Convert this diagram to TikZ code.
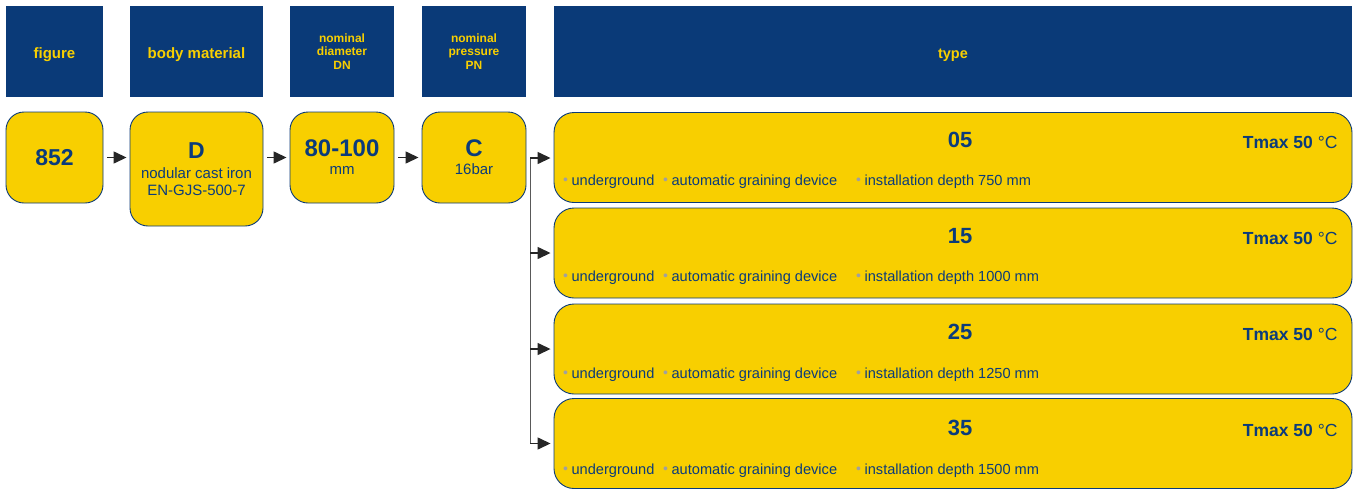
\documentclass[tikz,border=0pt]{standalone}
\usepackage{fontspec}
\setmainfont{Liberation Sans}
\usetikzlibrary{arrows.meta}
\definecolor{hdblue}{HTML}{0A3A78}
\definecolor{boxyellow}{HTML}{F8CF00}
\definecolor{txtblue}{HTML}{0B3B7B}
\definecolor{dotgray}{HTML}{A0A0A0}
\newcommand{\bul}[1]{\textcolor{dotgray}{\fontsize{14}{14}\selectfont\raisebox{1pt}{•}}\hspace{3.5pt}#1}
\begin{document}
\begin{tikzpicture}[x=1pt,y=-1pt,
	head/.style={fill=hdblue, text=boxyellow, inner sep=0pt, align=center, font=\bfseries\fontsize{15}{17}\selectfont},
	headone/.style={head, text height=13pt, text depth=0pt},
	headsmall/.style={head, font=\bfseries\fontsize{12}{13.5}\selectfont},
	pill/.style={fill=boxyellow, draw=hdblue, line width=0.9pt, rounded corners=18pt, text=txtblue, inner sep=0pt, align=center, font=\fontsize{15}{17}\selectfont},
	typebox/.style={pill, minimum width=798pt, minimum height=90pt, rounded corners=20pt},
	num/.style={text=txtblue, font=\bfseries\fontsize{22}{24}\selectfont},
	tmax/.style={text=txtblue, anchor=east, font=\fontsize{17.5}{19}\selectfont},
	item/.style={text=txtblue, anchor=west, inner sep=0pt, font=\fontsize{14.6}{16}\selectfont},
	link/.style={-{Triangle[length=13pt,width=12pt]}, line width=1.4pt, draw=black!85, shorten <=4pt, shorten >=3pt},
	fan/.style={line width=1pt, draw=black!65}]
	\useasboundingbox (0,0) rectangle (1360,488);
	% headers
	\node[headone, minimum width=97pt, minimum height=91pt] (hfig) at (54.5,51.5) {figure};
	\node[headone, minimum width=133pt, minimum height=91pt] (hmat) at (196.5,51.5) {body material};
	\node[headsmall, minimum width=104pt, minimum height=91pt] (hdn) at (342,51.5) {nominal\\diameter\\DN};
	\node[headsmall, minimum width=104pt, minimum height=91pt] (hpn) at (474,51.5) {nominal\\pressure\\PN};
	\node[headone, font=\bfseries\fontsize{14.5}{16}\selectfont, minimum width=798pt, minimum height=91pt] (htype) at (953,51.5) {type};
	% code boxes
	\node[pill, minimum width=97pt, minimum height=91pt] (fig) at (54.5,157.5) {{\fontsize{23}{24}\selectfont\bfseries 852}};
	\node[pill, minimum width=133pt, minimum height=114pt] (mat) at (196.5,169) {{\fontsize{23}{24}\selectfont\bfseries D}\\[3pt]nodular cast iron\\EN-GJS-500-7};
	\node[pill, minimum width=104pt, minimum height=91pt] (dn) at (342,157.5) {{\fontsize{24}{24}\selectfont\bfseries 80-100}\\[1pt]mm};
	\node[pill, minimum width=104pt, minimum height=91pt] (pn) at (474,157.5) {{\fontsize{24}{24}\selectfont\bfseries C}\\[1pt]16bar};
	% type boxes
	\node[typebox] (t05) at (953,157.5) {};
	\node[typebox] (t15) at (953,253) {};
	\node[typebox] (t25) at (953,349) {};
	\node[typebox] (t35) at (953,443.5) {};
	\node[num] (n05) at (960,140) {05};
	\node[num] (n15) at (960,236) {15};
	\node[num] (n25) at (960,332) {25};
	\node[num] (n35) at (960,428) {35};
	\node[tmax] (m05) at (1341,142) {\textbf{Tmax 50} °C};
	\node[tmax] (m15) at (1341,238) {\textbf{Tmax 50} °C};
	\node[tmax] (m25) at (1341,334) {\textbf{Tmax 50} °C};
	\node[tmax] (m35) at (1341,430) {\textbf{Tmax 50} °C};
	\node[item] (a05) at (563,182) {\bul{underground}};
	\node[item] (b05) at (663,182) {\bul{automatic graining device}};
	\node[item] (c05) at (856,182) {\bul{installation depth 750 mm}};
	\node[item] (a15) at (563,278) {\bul{underground}};
	\node[item] (b15) at (663,278) {\bul{automatic graining device}};
	\node[item] (c15) at (856,278) {\bul{installation depth 1000 mm}};
	\node[item] (a25) at (563,375) {\bul{underground}};
	\node[item] (b25) at (663,375) {\bul{automatic graining device}};
	\node[item] (c25) at (856,375) {\bul{installation depth 1250 mm}};
	\node[item] (a35) at (563,471) {\bul{underground}};
	\node[item] (b35) at (663,471) {\bul{automatic graining device}};
	\node[item] (c35) at (856,471) {\bul{installation depth 1500 mm}};
	% arrows
	\draw[link] (fig.east) -- (fig.east -| mat.west);
	\draw[link] (dn.west -| mat.east) -- (dn.west);
	\draw[link] (dn.east) -- (pn.west);
	\coordinate (fork) at (530,158);
	\draw[fan] (fork) -- (fork |- t35.west);
	\draw[link, shorten <=0pt] (fork) -- (fork -| t05.west);
	\draw[link, shorten <=0pt] (fork |- t15.west) -- (t15.west);
	\draw[link, shorten <=0pt] (fork |- t25.west) -- (t25.west);
	\draw[link, shorten <=0pt] (fork |- t35.west) -- (t35.west);
\end{tikzpicture}
\end{document}
